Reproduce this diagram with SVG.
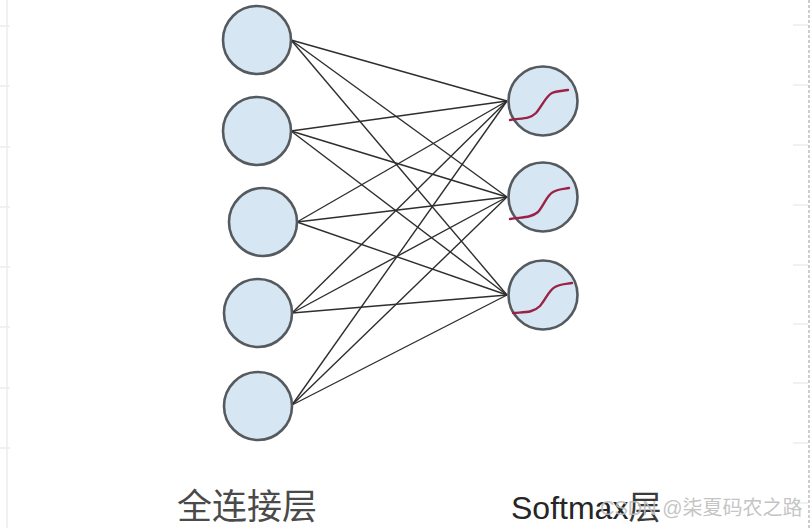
<svg xmlns="http://www.w3.org/2000/svg" width="811" height="528" viewBox="0 0 811 528">
<style>
.n{fill:#d6e6f3;stroke:#555a5e;stroke-width:2.6}
.e{stroke:#2e2e2e;stroke-width:1.4;fill:none}
.s{stroke:#9c2146;stroke-width:2.4;fill:none;stroke-linecap:round}
.g{stroke:#ececec;stroke-width:1.5}
.lab{font-family:"Liberation Sans","Noto Sans CJK SC",sans-serif}
</style>
<rect width="811" height="528" fill="#ffffff"/>
<g id="grid">
<line class="g" x1="7" y1="0" x2="7" y2="528"/>
<line class="g" x1="0" y1="26" x2="10" y2="26"/>
<line class="g" x1="0" y1="86" x2="10" y2="86"/>
<line class="g" x1="0" y1="147" x2="10" y2="147"/>
<line class="g" x1="0" y1="207" x2="10" y2="207"/>
<line class="g" x1="0" y1="267" x2="10" y2="267"/>
<line class="g" x1="0" y1="327" x2="10" y2="327"/>
<line class="g" x1="0" y1="388" x2="10" y2="388"/>
<line class="g" x1="0" y1="448" x2="10" y2="448"/>
<line x1="809" y1="0" x2="809" y2="528" stroke="#9a9a9a" stroke-width="1" stroke-dasharray="3,2"/>
<line class="g" x1="793" y1="25" x2="808" y2="25"/>
<line class="g" x1="793" y1="85" x2="808" y2="85"/>
<line class="g" x1="793" y1="145" x2="808" y2="145"/>
<line class="g" x1="793" y1="205" x2="808" y2="205"/>
<line class="g" x1="793" y1="265" x2="808" y2="265"/>
<line class="g" x1="793" y1="324" x2="808" y2="324"/>
<line class="g" x1="793" y1="383" x2="808" y2="383"/>
<line class="g" x1="793" y1="443" x2="808" y2="443"/>
<line class="g" x1="793" y1="503" x2="808" y2="503"/>
</g>
<g id="connectors">
<line class="e" x1="291" y1="40" x2="507" y2="101"/>
<line class="e" x1="291" y1="40" x2="507" y2="197"/>
<line class="e" x1="291" y1="40" x2="507" y2="295"/>
<line class="e" x1="291" y1="131" x2="507" y2="101"/>
<line class="e" x1="291" y1="131" x2="507" y2="197"/>
<line class="e" x1="291" y1="131" x2="507" y2="295"/>
<line class="e" x1="297" y1="222" x2="507" y2="101"/>
<line class="e" x1="297" y1="222" x2="507" y2="197"/>
<line class="e" x1="297" y1="222" x2="507" y2="295"/>
<line class="e" x1="292" y1="313" x2="507" y2="101"/>
<line class="e" x1="292" y1="313" x2="507" y2="197"/>
<line class="e" x1="292" y1="313" x2="507" y2="295"/>
<line class="e" x1="292" y1="405" x2="507" y2="101"/>
<line class="e" x1="292" y1="405" x2="507" y2="197"/>
<line class="e" x1="292" y1="405" x2="507" y2="295"/>
</g>
<g id="fc1"><circle class="n" cx="257" cy="40" r="34"/></g>
<g id="fc2"><circle class="n" cx="257" cy="131" r="34"/></g>
<g id="fc3"><circle class="n" cx="263" cy="222" r="34"/></g>
<g id="fc4"><circle class="n" cx="258" cy="313" r="34"/></g>
<g id="fc5"><circle class="n" cx="258" cy="406" r="34"/></g>
<g id="sm1"><circle class="n" cx="543" cy="101" r="34.5"/>
<path class="s" d="M510,120 C522,118 530,119 536,113 C542,106 546,96 552,93 C556,91 562,91 568,90"/></g>
<g id="sm2"><circle class="n" cx="543" cy="197" r="34.5"/>
<path class="s" d="M510,219 C522,217 531,218 538,212 C544,205 547,195 553,192 C558,189 563,189 569,188"/></g>
<g id="sm3"><circle class="n" cx="543" cy="295" r="34.5"/>
<path class="s" d="M513,313 C525,312 533,313 540,306 C546,299 549,290 555,287 C560,284 566,284 572,283"/></g>
<g id="labels">
<text class="lab" x="177" y="519" font-size="35" fill="#4a4a4a" font-family="'Noto Sans CJK SC',sans-serif">全连接层</text>
<text class="lab" x="511" y="519" font-size="32" fill="#262626">Softmax<tspan font-size="33" fill="#3a3a3a">层</tspan></text>
<text class="lab" x="600" y="515" font-size="20" fill="#bdbdbd" fill-opacity="0.9">CSDN @柒夏码农之路</text>
</g>
</svg>
